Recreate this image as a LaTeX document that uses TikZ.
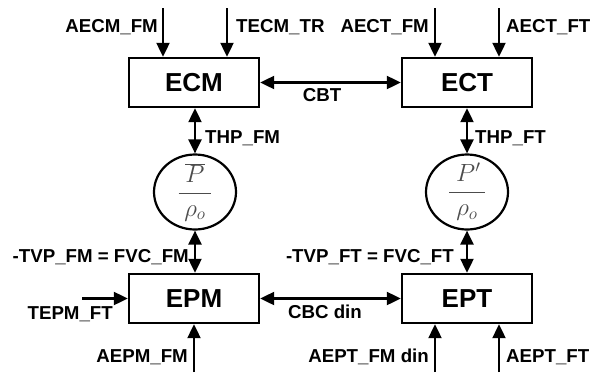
\documentclass[tikz,border=0pt]{standalone}
\usepackage{fontspec}
\setmainfont{Liberation Sans}
\usetikzlibrary{arrows.meta,shapes.geometric}
\begin{document}
\begin{tikzpicture}[x=1pt,y=-1pt,
  box/.style={draw,line width=2.4pt,minimum width=130pt,minimum height=49pt,inner sep=0pt,font=\fontsize{26}{28}\selectfont\bfseries},
  circ/.style={draw,line width=2.2pt,ellipse,minimum width=82pt,minimum height=75pt,inner sep=0pt},
  lbl/.style={font=\fontsize{18.7}{21}\selectfont\bfseries,inner sep=0pt},
  arr/.style={line width=2.2pt,-{Triangle[length=14pt,width=13pt]}},
  darr/.style={line width=2.2pt,{Triangle[length=14pt,width=13pt]}-{Triangle[length=14pt,width=13pt]}},
  frac/.style={text=black!70,font=\fontsize{24}{28}\selectfont,inner sep=0pt}]
\useasboundingbox (0,0) rectangle (601,372);
% boxes
\node[box] (ECM) at (194,82.5) {ECM};
\node[box] (ECT) at (467,82.5) {ECT};
\node[box] (EPM) at (194,298.5) {EPM};
\node[box] (EPT) at (467,298.5) {EPT};
% circles
\node[circ] (C1) at (195,192) {};
\node[circ] (C2) at (467,192) {};
\node[frac] (F1) at (C1) {$\displaystyle\frac{\;\overline{P}\;}{\rho_o}$};
\node[frac] (F2) at (C2) {$\displaystyle\frac{\;P'\,}{\rho_o}$};
% top inputs
\coordinate (t1) at (163,8);
\coordinate (t2) at (227,8);
\coordinate (t3) at (435,8);
\coordinate (t4) at (499,8);
\draw[arr] (t1) -- (t1 |- ECM.north);
\draw[arr] (t2) -- (t2 |- ECM.north);
\draw[arr] (t3) -- (t3 |- ECT.north);
\draw[arr] (t4) -- (t4 |- ECT.north);
% bottom inputs
\coordinate (b1) at (194,372);
\coordinate (b2) at (435,372);
\coordinate (b3) at (499,372);
\draw[arr] (b1) -- (b1 |- EPM.south);
\draw[arr] (b2) -- (b2 |- EPT.south);
\draw[arr] (b3) -- (b3 |- EPT.south);
% left input
\coordinate (l1) at (82,298.5);
\draw[arr] (l1) -- (EPM.west);
% horizontal couplings
\draw[darr] (ECM.east) -- (ECT.west);
\draw[darr] (EPM.east) -- (EPT.west);
% vertical couplings
\draw[darr] (ECM.south -| C1) -- (C1.north);
\draw[darr] (C1.south) -- (C1.south |- EPM.north);
\draw[darr] (ECT.south -| C2) -- (C2.north);
\draw[darr] (C2.south) -- (C2.south |- EPT.north);
% labels
\node[lbl,anchor=east] (L1) at (158,27) {AECM\_FM};
\node[lbl,anchor=west] (L2) at (236,27) {TECM\_TR};
\node[lbl,anchor=east] (L3) at (429,27) {AECT\_FM};
\node[lbl,anchor=west] (L4) at (506,27) {AECT\_FT};
\node[lbl] (L5) at (322,95) {CBT};
\node[lbl,anchor=west] (L6) at (205,138) {THP\_FM};
\node[lbl,anchor=west] (L7) at (475,138) {THP\_FT};
\node[lbl,anchor=east] (L8) at (189,257) {-TVP\_FM = FVC\_FM};
\node[lbl,anchor=east] (L9) at (454,257) {-TVP\_FT = FVC\_FT};
\node[lbl,anchor=east] (L10) at (113,314) {TEPM\_FT};
\node[lbl] (L11) at (325,312) {CBC din};
\node[lbl,anchor=east] (L12) at (188,357) {AEPM\_FM};
\node[lbl,anchor=east] (L13) at (429,357) {AEPT\_FM din};
\node[lbl,anchor=west] (L14) at (506,357) {AEPT\_FT};
\end{tikzpicture}
\end{document}
